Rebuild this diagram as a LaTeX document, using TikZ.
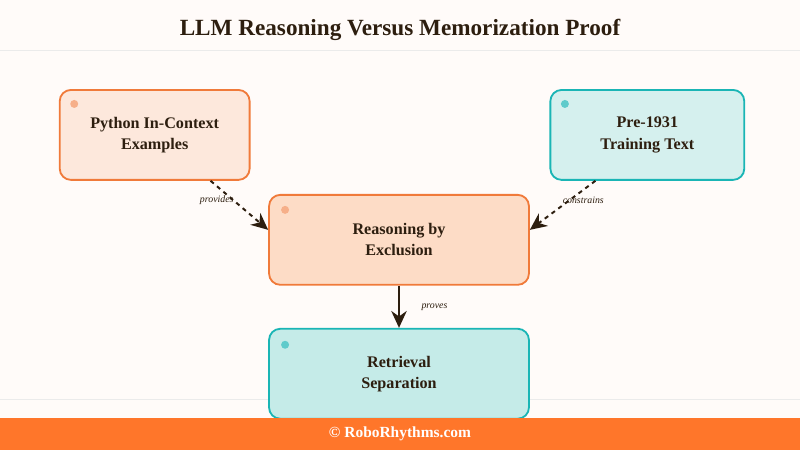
\documentclass[tikz,border=0pt]{standalone}
\usepackage{fontspec}
\setmainfont{Liberation Serif}
\usetikzlibrary{arrows.meta,positioning}
\definecolor{rrbg}{RGB}{255,251,249}
\definecolor{rrorange}{RGB}{240,122,58}
\definecolor{rrteal}{RGB}{26,181,181}
\definecolor{rrpeach}{RGB}{253,232,220}
\definecolor{rrpeach2}{RGB}{253,220,198}
\definecolor{rrmint}{RGB}{213,240,238}
\definecolor{rrmint2}{RGB}{197,235,232}
\definecolor{rrtext}{RGB}{45,30,15}
\definecolor{rrfoot}{RGB}{255,118,42}
\tikzset{
  box/.style={rectangle, rounded corners=8pt, line width=1.3pt, align=center, text=rrtext, font=\bfseries\fontsize{11.5}{15}\selectfont, minimum width=#1},
  warm/.style={box=4.75cm, draw=rrorange, fill=rrpeach, minimum height=2.25cm},
  cool/.style={box=4.85cm, draw=rrteal, fill=rrmint, minimum height=2.25cm},
  link/.style={line width=1.4pt, -{Stealth[length=12pt,width=11pt]}, color=rrtext},
  lbl/.style={font=\itshape\fontsize{7}{8}\selectfont, text=rrtext}
}
\begin{document}
\begin{tikzpicture}[x=0.025cm,y=-0.025cm]
    \fill[rrbg] (0,0) rectangle (800,450);
    \draw[black!8] (0,50) -- (800,50);
    \draw[black!8] (0,400) -- (800,400);
    \node[font=\bfseries\fontsize{16.5}{18}\selectfont, text=rrtext] (title) at (400,30) {LLM Reasoning Versus Memorization Proof};

    \node[warm] (python) at (154.5,135) {Python In-Context\\Examples};
    \node[cool] (pre) at (647.5,135) {Pre-1931\\Training Text};
    \node[warm, minimum width=6.5cm, fill=rrpeach2] (reason) at (399,240) {Reasoning by\\Exclusion};
    \node[cool, minimum width=6.5cm, fill=rrmint2] (retrieval) at (399,374) {Retrieval\\Separation};

    % corner dots
    \fill[rrorange!60] (74,104) circle (4);
    \fill[rrteal!70] (565,104) circle (4);
    \fill[rrorange!60] (285,210) circle (4);
    \fill[rrteal!70] (285,345) circle (4);

    \draw[link, dashed] ([xshift=-1cm]python.south east) -- ([yshift=0.25cm]reason.west) node[lbl, pos=0.4, xshift=-12pt] {provides};
    \draw[link, dashed] ([xshift=1.15cm]pre.south west) -- ([yshift=0.25cm]reason.east) node[lbl, pos=0.4, xshift=10pt] {constrains};
    \draw[link] (reason) -- (retrieval) node[lbl, midway, right=12pt] {proves};

    % footer
    \fill[rrfoot] (0,418) rectangle (800,450);
    \node[text=white, font=\bfseries\fontsize{11}{12}\selectfont] (foot) at (400,434) {© RoboRhythms.com};
\end{tikzpicture}
\end{document}
